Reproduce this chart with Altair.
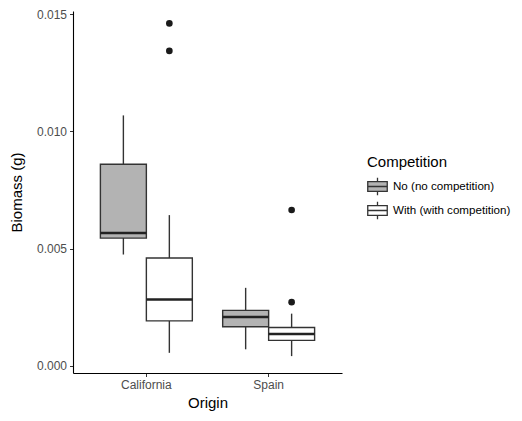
import altair as alt
import pandas as pd

origins = ["California", "California", "Spain", "Spain"]
competition = ["No (no competition)", "With (with competition)",
               "No (no competition)", "With (with competition)"]
lower = [0.00475, 0.00056, 0.00071, 0.00042]
q1 = [0.00545, 0.00192, 0.00167, 0.00109]
median = [0.00567, 0.00283, 0.00209, 0.00136]
q3 = [0.00860, 0.00460, 0.00237, 0.00164]
upper = [0.01068, 0.00643, 0.00333, 0.00223]

out_origin = ["California", "California", "Spain", "Spain"]
out_comp = ["With (with competition)"] * 4
out_value = [0.01460, 0.01343, 0.00665, 0.00272]

box = pd.DataFrame({"Origin": origins, "Competition": competition, "lower": lower,
                    "q1": q1, "median": median, "q3": q3, "upper": upper})
outs = pd.DataFrame({"Origin": out_origin, "Competition": out_comp, "value": out_value})

FONT = "Liberation Sans"
comp_order = ["No (no competition)", "With (with competition)"]

x = alt.X("Origin:N", title="Origin",
          scale=alt.Scale(paddingInner=0, paddingOuter=0.1),
          axis=alt.Axis(labelAngle=0))
xo = alt.XOffset("Competition:N", sort=comp_order,
                 scale=alt.Scale(paddingInner=0, paddingOuter=0.33))
yscale = alt.Scale(domain=[-0.0003, 0.01513], nice=False, zero=False)

base = alt.Chart(box)

whisk = base.mark_rule(color="#333333", strokeWidth=1.4).encode(
    x=x, xOffset=xo,
    y=alt.Y("lower:Q", scale=yscale, title="Biomass (g)",
            axis=alt.Axis(values=[0, 0.005, 0.01, 0.015], format=".3f")),
    y2="upper:Q")

legend_path = "M-1,-0.5H1V0.5H-1Z M-1,0H1 M0,-0.5V-0.9 M0,0.5V0.9"
boxes = base.mark_bar(stroke="#333333", strokeWidth=1.4).encode(
    x=x, xOffset=xo,
    y=alt.Y("q1:Q", scale=yscale),
    y2="q3:Q",
    fill=alt.Fill("Competition:N", sort=comp_order,
                  scale=alt.Scale(domain=comp_order, range=["#b3b3b3", "#ffffff"]),
                  legend=alt.Legend(title="Competition", orient="none",
                                    legendX=294, legendY=144,
                                    symbolType=legend_path, symbolSize=380,
                                    symbolStrokeColor="#333333", symbolStrokeWidth=1.3,
                                    rowPadding=1, labelOffset=5, titlePadding=6,
                                    labelLimit=0)))

med = base.mark_bar(stroke="#222222", strokeWidth=2.6, fillOpacity=0).encode(
    x=x, xOffset=xo,
    y=alt.Y("median:Q", scale=yscale),
    y2="median:Q")

pts = alt.Chart(outs).mark_circle(size=44, color="#1a1a1a", opacity=1).encode(
    x=x, xOffset=xo,
    y=alt.Y("value:Q", scale=yscale))

chart = alt.layer(whisk, boxes, med, pts).properties(
    width=269, height=362,
    padding={"left": 65, "top": 3, "right": 172, "bottom": 40},
    autosize=alt.AutoSizeParams(type="none"),
).configure_view(stroke=None).configure_axis(
    grid=False, domainColor="#000000", domainWidth=1.1,
    tickColor="#333333", tickSize=3.5, tickWidth=1,
    labelColor="#4d4d4d", labelFont=FONT, labelFontSize=12, labelPadding=3,
    titleFont=FONT, titleFontSize=15, titleFontWeight="normal", titleColor="#000000",
).configure_axisX(titlePadding=5).configure_axisY(titlePadding=12).configure_legend(
    titleFont=FONT, titleFontSize=15, titleFontWeight="normal", titleColor="#000000",
    labelFont=FONT, labelFontSize=11.6, labelColor="#000000", padding=0,
)

chart.save("out.html", embed_options={"renderer": "svg", "actions": False})
